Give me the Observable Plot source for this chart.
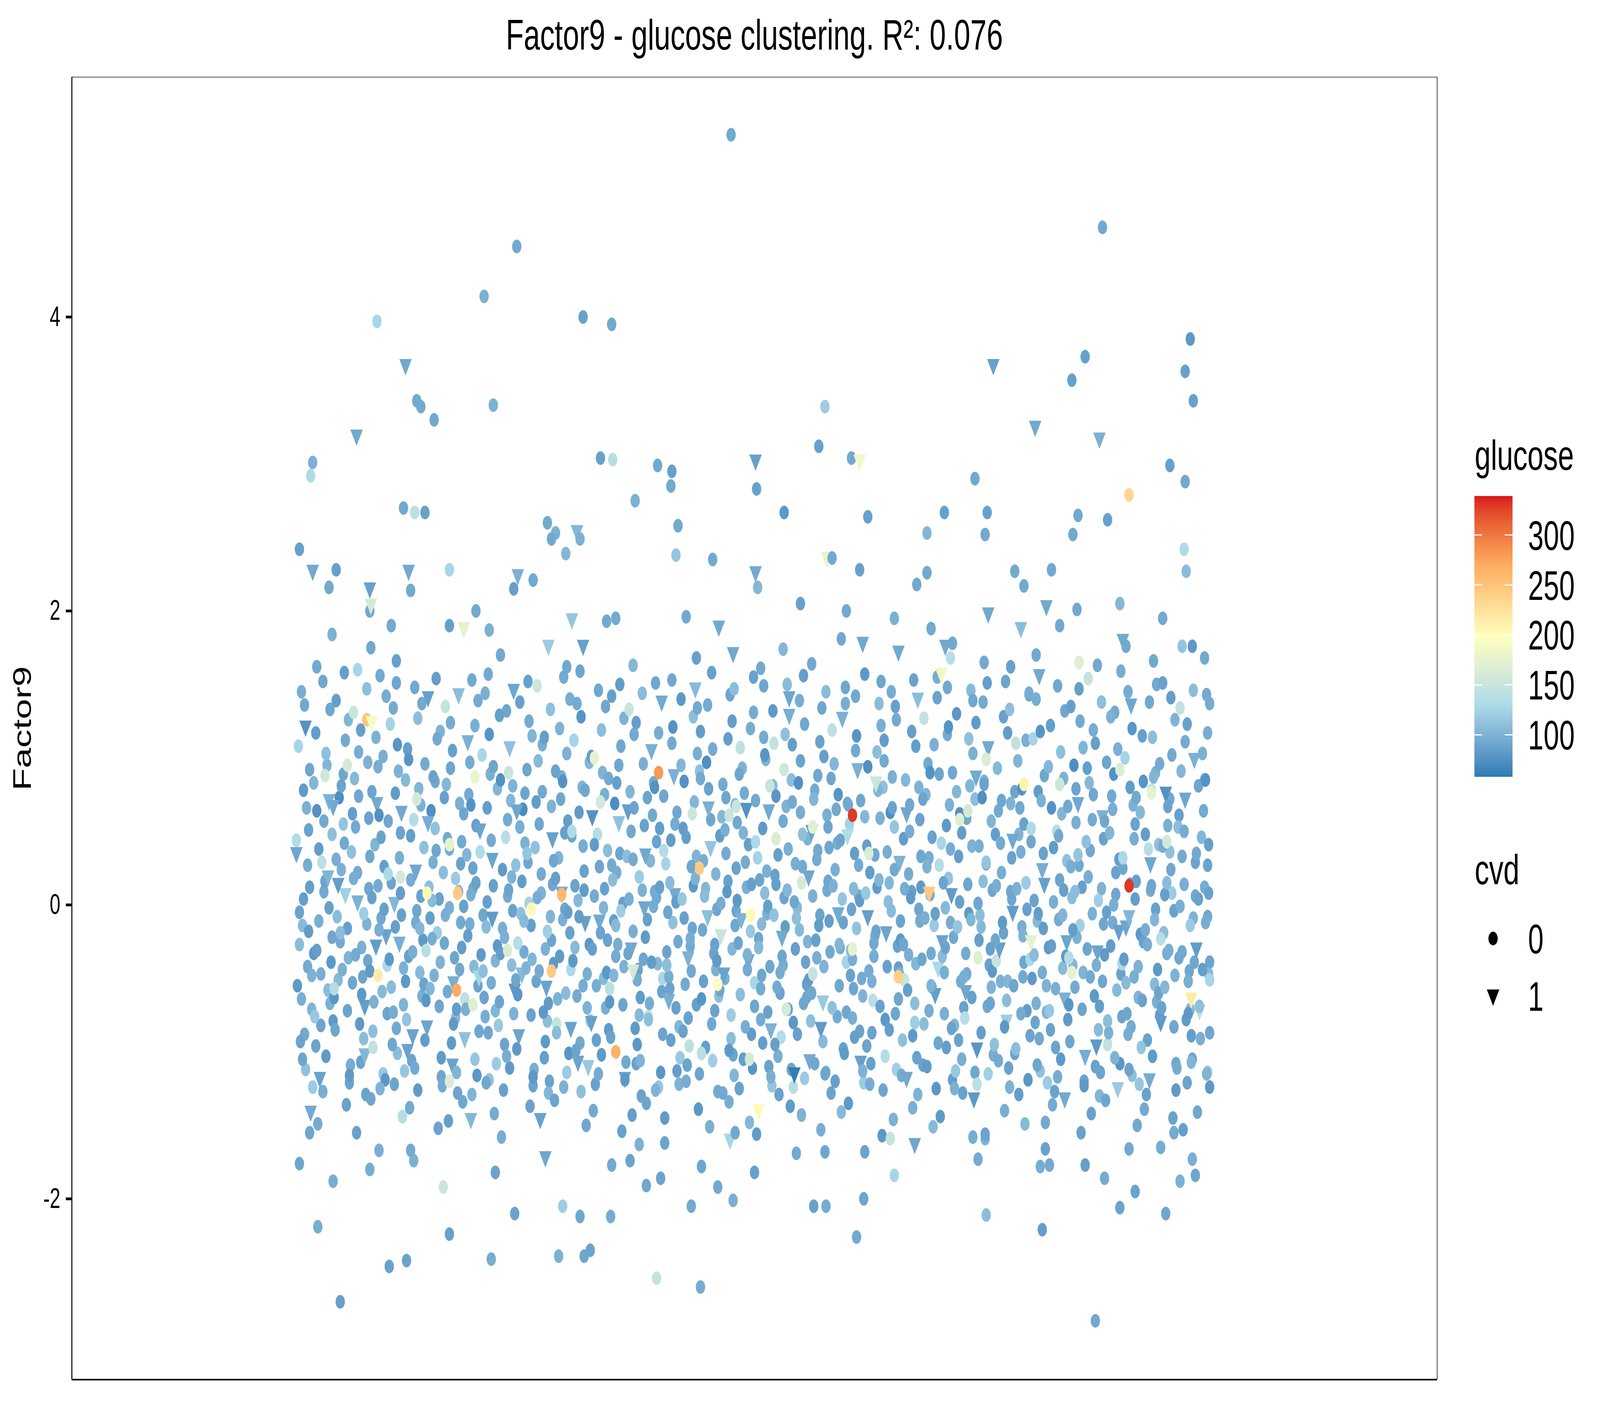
<!DOCTYPE html>
<html><head><meta charset="utf-8">
<script src="https://cdn.jsdelivr.net/npm/d3@7"></script>
<script src="https://cdn.jsdelivr.net/npm/@observablehq/plot@0.6"></script>
<style>
html,body{margin:0;padding:0;background:#fff;overflow:hidden;width:100%;height:100%;}
#wrap{position:absolute;left:0;top:0;width:6000px;height:3600px;transform-origin:0 0;}
#wrap svg.overlay{position:absolute;left:0;top:0;}
</style></head><body><div id="wrap"></div>
<script>
const FONT = '"Liberation Sans", Arial, Helvetica, sans-serif';
const title = "Factor9 - glucose clustering. R²: 0.076";
const yLabel = "Factor9";
const yTicks = [-2, 0, 2, 4];
const legendTicks = [100, 150, 200, 250, 300];
const glucoseExtent = [58, 339];
const cvdLevels = [0, 1];
const paletteColors = ["#2c7bb6", "#abd9e9", "#ffffbf", "#fdae61", "#d7191c"];

// ---- dense cloud of samples (order index, Factor9) ----
const cloudX = [
3,11,7,15,0,9,13,5,17,2,8,12,6,14,1,10,16,4,11,7,3,13,9,15,6,0,12,5,17,8,
27,20,32,24,35,29,22,26,31,19,33,25,28,21,34,30,23,18,27,32,24,20,29,35,26,22,31,19,28,33,
50,41,46,37,44,52,48,39,43,51,36,47,40,49,45,42,53,38,46,41,51,44,48,37,52,39,43,50,36,47,
60,70,55,66,58,63,69,56,65,61,67,54,71,59,64,57,68,62,60,66,55,70,63,58,67,71,56,64,61,69,
83,72,80,89,77,85,74,82,88,78,75,86,81,73,84,79,87,76,83,80,89,74,85,78,82,72,86,75,81,88,
93,101,97,105,90,99,103,95,107,92,98,102,96,104,91,100,106,94,101,97,93,103,99,105,96,90,102,95,107,98,
117,110,122,114,125,119,112,116,121,109,123,115,118,111,124,120,113,108,117,122,114,110,119,125,116,112,121,109,118,123,
140,131,136,127,134,142,138,129,133,141,126,137,130,139,135,132,143,128,136,131,141,134,138,127,142,129,133,140,126,137,
150,160,145,156,148,153,159,146,155,151,157,144,161,149,154,147,158,152,150,156,145,160,153,148,157,161,146,154,151,159,
173,162,170,179,167,175,164,172,178,168,165,176,171,163,174,169,177,166,173,170,179,164,175,168,172,162,176,165,171,178,
183,191,187,195,180,189,193,185,197,182,188,192,186,194,181,190,196,184,191,187,183,193,189,195,186,180,192,185,197,188,
207,200,212,204,215,209,202,206,211,199,213,205,208,201,214,210,203,198,207,212,204,200,209,215,206,202,211,199,208,213,
230,221,226,217,224,232,228,219,223,231,216,227,220,229,225,222,233,218,226,221,231,224,228,217,232,219,223,230,216,227,
240,250,235,246,238,243,249,236,245,241,247,234,251,239,244,237,248,242,240,246,235,250,243,238,247,251,236,244,241,249,
263,252,260,269,257,265,254,262,268,258,255,266,261,253,264,259,267,256,263,260,269,254,265,258,262,252,266,255,261,268,
273,281,277,285,270,279,283,275,287,272,278,282,276,284,271,280,286,274,281,277,273,283,279,285,276,270,282,275,287,278,
297,290,302,294,305,299,292,296,301,289,303,295,298,291,304,300,293,288,297,302,294,290,299,305,296,292,301,289,298,303,
320,311,316,307,314,322,318,309,313,321,306,317,310,319,315,312,323,308,316,311,321,314,318,307,322,309,313,320,306,317,
330,340,325,336,328,333,339,326,335,331,337,324,341,329,334,327,338,332,330,336,325,340,333,328,337,341,326,334,331,339,
353,342,350,359,347,355,344,352,358,348,345,356,351,343,354,349,357,346,353,350,359,344,355,348,352,342,356,345,351,358,
363,371,367,375,360,369,373,365,377,362,368,372,366,374,361,370,376,364,371,367,363,373,369,375,366,360,372,365,377,368,
387,380,392,384,395,389,382,386,391,379,393,385,388,381,394,390,383,378,387,392,384,380,389,395,386,382,391,379,388,393,
410,401,406,397,404,412,408,399,403,411,396,407,400,409,405,402,413,398,406,401,411,404,408,397,412,399,403,410,396,407,
420,430,415,426,418,423,429,416,425,421,427,414,431,419,424,417,428,422,420,426,415,430,423,418,427,431,416,424,421,429,
443,432,440,449,437,445,434,442,448,438,435,446,441,433,444,439,447,436,443,440,449,434,445,438,442,432,446,435,441,448,
453,461,457,465,450,459,463,455,467,452,458,462,456,464,451,460,466,454,461,457,453,463,459,465,456,450,462,455,467,458,
477,470,482,474,485,479,472,476,481,469,483,475,478,471,484,480,473,468,477,482,474,470,479,485,476,472,481,469,478,483,
500,491,496,487,494,502,498,489,493,501,486,497,490,499,495,492,503,488,496,491,501,494,498,487,502,489,493,500,486,497,
510,520,505,516,508,513,519,506,515,511,517,504,521,509,514,507,518,512,510,516,505,520,513,508,517,521,506,514,511,519,
533,522,530,539,527,535,524,532,538,528,525,536,531,523,534,529,537,526,533,530,539,524,535,528,532,522,536,525,531,538,
543,551,547,555,540,549,553,545,557,542,548,552,546,554,541,550,556,544,551,547,543,553,549,555,546,540,552,545,557,548,
567,560,572,564,575,569,562,566,571,559,573,565,568,561,574,570,563,558,567,572,564,560,569,575,566,562,571,559,568,573,
590,581,586,577,584,592,588,579,583,591,576,587,580,589,585,582,593,578,586,581,591,584,588,577,592,579,583,590,576,587,
600,610,595,606,598,603,609,596,605,601,607,594,611,599,604,597,608,602,600,606,595,610,603,598,607,611,596,604,601,609,
623,612,620,629,617,625,614,622,628,618,615,626,621,613,624,619,627,616,623,620,629,614,625,618,622,612,626,615,621,628,
633,641,637,645,630,639,643,635,647,632,638,642,636,644,631,640,646,634,641,637,633,643,639,645,636,630,642,635,647,638,
657,650,662,654,665,659,652,656,661,649,663,655,658,651,664,660,653,648,657,662,654,650,659,665,656,652,661,649,658,663,
680,671,676,667,674,682,678,669,673,681,666,677,670,679,675,672,683,668,676,671,681,674,678,667,682,669,673,680,666,677,
690,700,685,696,688,693,699,686,695,691,697,684,701,689,694,687,698,692,690,696,685,700,693,688,697,701,686,694,691,699,
713,702,710,719,707,715,704,712,718,708,705,716,711,703,714,709,717,706,713,710,719,704,715,708,712,702,716,705,711,718,
723,731,727,735,720,729,733,725,737,722,728,732,726,734,721,730,736,724,731,727,723,733,729,735,726,720,732,725,737,728,
747,740,752,744,755,749,742,746,751,739,753,745,748,741,754,750,743,738,747,752,744,740,749,755,746,742,751,739,748,753,
770,761,766,757,764,772,768,759,763,771,756,767,760,769,765,762,773,758,766,761,771,764,768,757,772,759,763,770,756,767,
780,790,775,786,778,783,789,776,785,781,787,774,791,779,784,777,788,782,780,786,775,790,783,778,787,791,776,784,781,789,
803,792,800,809,797,805,794,802,808,798,795,806,801,793,804,799,807,796,803,800,809,794,805,798,802,792,806,795,801,808,
813,821,817,825,810,819,823,815,827,812,818,822,816,824,811,820,826,814,821,817,813,823,819,825,816,810,822,815,827,818,
837,830,842,834,845,839,832,836,841,829,843,835,838,831,844,840,833,828,837,842,834,830,839,845,836,832,841,829,838,843,
860,851,856,847,854,862,858,849,853,861,846,857,850,859,855,852,863,848,856,851,861,854,858,847,862,849,853,860,846,857,
870,880,865,876,868,873,879,866,875,871,877,864,881,869,874,867,878,872,870,876,865,880,873,868,877,881,866,874,871,879,
893,882,890,895,887,893,884,892,895,888,885,894,891,883,894,889,895,886,893,890,895,884,893,888,892,882,894,885,891,895
];
const cloudY = [
-0.05,-0.42,0.78,-0.71,0.35,-1.12,0.12,1.45,-0.33,1.08,-0.88,0.51,-0.14,-1.41,-0.55,0.66,-1.24,-0.93,0.27,0.04,-0.27,0.92,1.21,-0.48,-1.05,0.44,-0.18,-0.64,0.83,1.36,
0.09,-0.31,0.71,-0.82,0.48,-1.03,-0.11,1.52,-0.58,1.17,-0.67,0.29,0.16,-1.49,-0.39,0.95,-1.18,-0.76,0.57,-0.02,-0.47,0.64,1.03,-0.22,-1.27,0.38,0.19,-0.96,0.88,1.33,
-0.16,-0.51,0.89,-0.63,0.24,-1.21,0.07,1.39,-0.25,1.26,-0.79,0.42,-0.08,-1.36,-0.44,0.73,-1.09,-0.85,0.55,0.14,-0.36,0.81,1.12,-0.57,-1.16,0.31,-0.19,-0.72,0.67,1.58,
0.02,-0.38,0.62,-0.91,0.53,-1.07,-0.13,1.31,-0.49,1.04,-0.69,0.36,0.11,-1.55,-0.29,0.86,-1.29,-0.81,0.22,-0.06,-0.53,0.97,1.19,-0.34,-1.02,0.59,0.18,-0.61,0.74,1.47,
-0.09,-0.45,0.94,-0.74,0.41,-1.15,0.05,1.56,-0.21,1.14,-0.97,0.26,-0.17,-1.32,-0.59,0.69,-1.19,-0.66,0.46,0.13,-0.41,0.77,1.01,-0.28,-1.25,0.33,-0.03,-0.86,0.61,1.42,
0.15,-0.26,0.76,-0.68,0.57,-1.01,-0.07,1.34,-0.52,1.23,-0.84,0.49,0.01,-1.44,-0.37,0.91,-1.13,-0.95,0.32,-0.15,-0.56,0.63,1.09,-0.43,-1.22,0.21,0.08,-0.73,0.85,1.51,
-0.12,-0.35,0.68,-0.89,0.39,-1.26,0.17,1.48,-0.46,1.06,-0.62,0.58,-0.04,-1.38,-0.24,0.79,-1.06,-0.78,0.23,0.06,-0.32,0.99,1.27,-0.54,-1.11,0.47,-0.16,-0.99,0.72,1.37,
0.04,-0.57,0.84,-0.65,0.29,-1.17,-0.19,1.41,-0.23,1.18,-0.92,0.37,0.12,-1.52,-0.48,0.64,-1.23,-0.83,0.52,-0.09,-0.39,0.87,1.13,-0.31,-1.04,0.56,0.03,-0.69,0.96,1.54,
-0.02,-0.44,0.73,-0.77,0.45,-1.09,0.09,1.35,-0.36,1.24,-0.71,0.22,-0.12,-1.47,-0.53,0.82,-1.28,-0.94,0.38,0.18,-0.26,0.69,1.05,-0.59,-1.14,0.28,-0.07,-0.81,0.93,1.43,
0.11,-0.29,0.97,-0.86,0.34,-1.05,-0.01,1.53,-0.55,1.11,-0.64,0.54,0.07,-1.34,-0.42,0.75,-1.16,-0.71,0.25,-0.13,-0.49,0.62,1.22,-0.21,-1.29,0.43,0.15,-0.91,0.68,1.39,
-0.07,-0.53,0.66,-0.72,0.51,-1.19,0.13,1.44,-0.28,1.02,-0.87,0.31,-0.15,-1.42,-0.34,0.89,-1.08,-0.63,0.44,0.02,-0.45,0.94,1.16,-0.38,-1.21,0.36,-0.09,-0.76,0.79,1.57,
0.06,-0.33,0.81,-0.95,0.27,-1.11,-0.16,1.32,-0.41,1.29,-0.74,0.46,0.1,-1.58,-0.58,0.71,-1.26,-0.82,0.58,-0.04,-0.22,0.85,1.07,-0.51,-1.03,0.24,0.19,-0.66,0.9,1.46,
-0.14,-0.47,0.92,-0.61,0.42,-1.23,0.01,1.38,-0.32,1.15,-0.98,0.29,-0.06,-1.37,-0.43,0.65,-1.12,-0.89,0.35,0.16,-0.37,0.76,1.25,-0.26,-1.17,0.53,-0.11,-0.75,0.64,1.52,
0.08,-0.24,0.7,-0.79,0.55,-1.04,-0.08,1.49,-0.56,1.09,-0.67,0.39,0.14,-1.46,-0.3,0.98,-1.2,-0.73,0.21,-0.18,-0.52,0.67,1.14,-0.45,-1.28,0.45,0.05,-0.93,0.77,1.33,
-0.03,-0.4,0.87,-0.84,0.32,-1.14,0.18,1.55,-0.19,1.2,-0.81,0.57,-0.1,-1.33,-0.6,0.72,-1.01,-0.64,0.49,0.08,-0.44,0.91,1.03,-0.35,-1.24,0.3,-0.05,-0.87,0.84,1.4,
0.13,-0.55,0.63,-0.7,0.47,-1.27,-0.12,1.37,-0.27,1.12,-0.94,0.23,0.03,-1.5,-0.38,0.8,-1.1,-0.99,0.4,-0.08,-0.29,0.78,1.28,-0.47,-1.07,0.5,0.1,-0.62,0.97,1.59,
-0.11,-0.3,0.75,-0.92,0.37,-1.02,0.06,1.46,-0.5,1.01,-0.7,0.48,-0.19,-1.4,-0.46,0.9,-1.22,-0.79,0.26,0.11,-0.55,0.6,1.19,-0.24,-1.15,0.41,-0.02,-0.8,0.7,1.35,
0.01,-0.48,0.95,-0.66,0.22,-1.18,-0.04,1.42,-0.35,1.27,-0.85,0.35,0.17,-1.54,-0.27,0.69,-1.07,-0.9,0.56,-0.11,-0.42,0.83,1.08,-0.57,-1.19,0.27,-0.14,-0.68,0.86,1.5,
-0.18,-0.37,0.64,-0.75,0.5,-1.08,0.1,1.33,-0.44,1.16,-0.63,0.33,-0.02,-1.43,-0.51,0.77,-1.3,-0.84,0.31,0.19,-0.33,0.96,1.24,-0.3,-1.06,0.54,0.04,-0.95,0.66,1.44,
0.05,-0.22,0.83,-0.88,0.3,-1.24,-0.1,1.51,-0.59,1.05,-0.76,0.52,0.09,-1.35,-0.4,0.61,-1.14,-0.67,0.43,-0.01,-0.5,0.73,1.17,-0.39,-1.26,0.34,0.12,-0.78,0.8,1.38,
-0.32,0.07,0.44,-0.83,0.74,-0.12,-1.13,-0.49,1.4,0.28,1.1,-0.7,0.15,-0.25,-1.45,0.88,-1.04,-0.05,0.55,-0.92,-0.41,0.63,1.21,-1.22,-0.57,0.37,0.02,-0.65,0.95,1.53,
-0.45,-0.09,0.33,-0.77,0.91,0.13,-1.2,-0.28,1.47,0.52,1.03,-0.96,-0.16,-0.54,-1.39,0.7,-1.09,0.04,0.26,-0.68,-0.36,0.84,1.28,-1.15,-0.23,0.46,0.18,-0.86,0.62,1.34,
-0.27,0.11,0.58,-0.64,0.66,-0.03,-1.06,-0.52,1.36,0.21,1.18,-0.81,0.06,-0.33,-1.51,0.97,-1.27,-0.17,0.39,-0.97,-0.44,0.79,1.06,-1.01,-0.38,0.3,-0.08,-0.72,0.86,1.58,
-0.5,-0.14,0.47,-0.91,0.82,0.16,-1.16,-0.21,1.43,0.35,1.25,-0.62,-0.04,-0.47,-1.34,0.6,-1.02,0.09,0.51,-0.75,-0.58,0.68,1.13,-1.28,-0.3,0.25,0.01,-0.99,0.73,1.47,
-0.38,0.03,0.29,-0.69,0.93,-0.18,-1.25,-0.44,1.55,0.49,1.07,-0.88,0.12,-0.26,-1.48,0.76,-1.11,-0.1,0.41,-0.83,-0.53,0.89,1.2,-1.05,-0.34,0.56,0.14,-0.61,0.65,1.31,
-0.23,-0.06,0.52,-0.85,0.71,0.08,-1.1,-0.57,1.32,0.32,1.14,-0.73,-0.13,-0.42,-1.56,0.99,-1.23,0.17,0.23,-0.94,-0.29,0.64,1.02,-1.17,-0.48,0.43,-0.01,-0.78,0.81,1.49,
-0.41,0.14,0.38,-0.6,0.85,-0.15,-1.03,-0.35,1.5,0.2,1.29,-0.9,0.05,-0.56,-1.37,0.67,-1.29,-0.07,0.57,-0.71,-0.46,0.74,1.16,-1.12,-0.22,0.34,0.1,-0.95,0.92,1.41,
-0.54,-0.02,0.26,-0.8,0.63,0.19,-1.18,-0.3,1.39,0.45,1.09,-0.67,-0.09,-0.39,-1.43,0.83,-1.06,0.02,0.48,-0.88,-0.25,0.98,1.23,-1.24,-0.51,0.28,-0.17,-0.63,0.7,1.56,
-0.36,0.1,0.5,-0.93,0.78,-0.07,-1.14,-0.47,1.34,0.37,1.01,-0.79,0.16,-0.24,-1.53,0.72,-1.15,-0.14,0.31,-0.66,-0.6,0.61,1.11,-1.08,-0.42,0.53,0.06,-0.84,0.88,1.45,
-0.29,-0.11,0.42,-0.73,0.96,0.04,-1.28,-0.55,1.48,0.24,1.19,-0.98,-0.06,-0.32,-1.41,0.65,-1.01,0.13,0.44,-0.76,-0.39,0.86,1.27,-1.2,-0.27,0.39,-0.12,-0.7,0.75,1.37,
-0.48,0.06,0.35,-0.62,0.69,-0.16,-1.07,-0.37,1.57,0.55,1.05,-0.86,0.11,-0.5,-1.35,0.92,-1.21,-0.03,0.27,-0.9,-0.31,0.71,1.15,-1.13,-0.57,0.47,0.03,-0.77,0.6,1.42,
-0.21,-0.08,0.59,-0.87,0.8,0.12,-1.22,-0.26,1.37,0.4,1.22,-0.65,-0.18,-0.45,-1.57,0.78,-1.08,0.08,0.34,-0.69,-0.52,0.94,1.04,-1.26,-0.35,0.22,0.17,-0.96,0.83,1.52,
-0.43,0.15,0.24,-0.78,0.87,-0.11,-1.12,-0.42,1.45,0.29,1.12,-0.74,0.02,-0.28,-1.46,0.63,-1.16,-0.19,0.53,-0.85,-0.47,0.66,1.26,-1.03,-0.24,0.36,-0.04,-0.64,0.98,1.35,
-0.34,-0.03,0.45,-0.67,0.62,0.09,-1.29,-0.51,1.53,0.5,1.08,-0.92,-0.11,-0.58,-1.38,0.85,-1.04,0.05,0.21,-0.8,-0.27,0.8,1.18,-1.18,-0.4,0.58,0.11,-0.89,0.68,1.4,
-0.56,0.12,0.32,-0.94,0.75,-0.14,-1.09,-0.33,1.41,0.26,1.27,-0.61,0.07,-0.37,-1.51,0.96,-1.25,-0.09,0.46,-0.72,-0.43,0.72,1.09,-1.1,-0.55,0.33,-0.06,-0.81,0.9,1.55,
-0.25,-0.12,0.54,-0.82,0.89,0.18,-1.19,-0.46,1.3,0.42,1.16,-0.84,-0.02,-0.22,-1.44,0.68,-1.13,0.15,0.38,-0.97,-0.35,0.9,1.21,-1.25,-0.29,0.27,0.07,-0.74,0.77,1.48,
-0.47,0.02,0.4,-0.7,0.72,-0.06,-1.05,-0.59,1.46,0.33,1.03,-0.77,0.14,-0.52,-1.32,0.81,-1.28,-0.15,0.59,-0.63,-0.49,0.62,1.13,-1.14,-0.33,0.49,-0.1,-0.92,0.64,1.39,
-0.3,-0.15,0.28,-0.98,0.84,0.1,-1.15,-0.24,1.38,0.57,1.24,-0.69,-0.07,-0.41,-1.59,0.73,-1.02,0.01,0.29,-0.87,-0.56,0.82,1.07,-1.22,-0.45,0.4,0.16,-0.67,0.87,1.51,
-0.52,0.09,0.48,-0.65,0.64,-0.19,-1.24,-0.38,1.52,0.22,1.17,-0.95,0.04,-0.3,-1.4,0.93,-1.11,-0.12,0.42,-0.79,-0.24,0.69,1.28,-1.06,-0.52,0.32,0.13,-0.83,0.71,1.33,
-0.39,-0.05,0.36,-0.89,0.98,0.15,-1.01,-0.49,1.43,0.48,1.1,-0.72,-0.15,-0.55,-1.49,0.66,-1.19,0.11,0.55,-0.74,-0.37,0.77,1.12,-1.29,-0.21,0.44,-0.03,-0.98,0.79,1.44,
0.03,-0.46,0.77,-0.73,0.43,-1.13,0.14,1.4,-0.29,1.13,-0.91,0.35,-0.11,-1.48,-0.5,0.71,-1.21,-0.8,0.24,-0.06,-0.34,0.88,1.18,-0.55,-1.09,0.52,-0.16,-0.67,0.94,1.56,
-0.1,-0.28,0.86,-0.97,0.3,-1.05,0.02,1.49,-0.43,1.22,-0.64,0.5,0.17,-1.36,-0.35,0.62,-1.27,-0.72,0.47,0.1,-0.57,0.66,1.04,-0.25,-1.17,0.39,-0.07,-0.85,0.82,1.32,
0.12,-0.41,0.69,-0.68,0.56,-1.2,-0.14,1.35,-0.56,1.07,-0.78,0.27,0.05,-1.55,-0.22,0.95,-1.03,-0.93,0.34,-0.17,-0.46,0.79,1.25,-0.36,-1.23,0.26,0.09,-0.71,0.67,1.47,
-0.06,-0.52,0.93,-0.85,0.37,-1.1,0.11,1.54,-0.32,1.19,-0.69,0.43,-0.13,-1.42,-0.41,0.83,-1.14,-0.62,0.58,0.03,-0.3,0.6,1.1,-0.49,-1.3,0.45,0.19,-0.96,0.75,1.38,
0.07,-0.34,0.65,-0.76,0.49,-1.25,-0.05,1.31,-0.47,1.28,-0.95,0.31,0.0,-1.33,-0.58,0.74,-1.08,-0.87,0.22,-0.12,-0.4,0.97,1.06,-0.28,-1.04,0.57,-0.18,-0.79,0.89,1.59,
-0.15,-0.49,0.8,-0.63,0.25,-1.16,0.16,1.45,-0.2,1.0,-0.83,0.55,-0.08,-1.5,-0.37,0.68,-1.22,-0.74,0.45,0.14,-0.53,0.73,1.2,-0.42,-1.12,0.32,0.04,-0.88,0.63,1.36,
0.1,-0.25,0.9,-0.92,0.41,-1.03,-0.17,1.38,-0.54,1.15,-0.66,0.38,0.13,-1.39,-0.44,0.87,-1.29,-0.97,0.28,-0.03,-0.27,0.84,1.14,-0.6,-1.19,0.48,-0.1,-0.65,0.78,1.5,
-0.04,-0.56,0.72,-0.8,0.54,-1.08,0.08,1.51,-0.33,1.26,-0.75,0.24,-0.19,-1.45,-0.31,0.76,-1.11,-0.7,0.36,0.07,-0.48,0.67,1.02,-0.23,-1.26,0.4,0.15,-0.83,0.96,1.41,
0.14,-0.39,0.61,-0.71,0.33,-1.21,-0.09,1.34,-0.45,1.11,-0.89,0.53,0.06,-1.53,-0.52,0.91,-1.05,-0.78,0.5,-0.14,-0.36,0.99,1.23,-0.32,-1.07,0.29,-0.01,-0.74,0.72,1.46,
-0.08,-0.3,0.85,-0.87,0.46,-1.14,0.04,1.43,-0.39,1.03,-0.72,0.41,-0.12,-1.41,-0.47,0.64,-1.24,-0.91,0.27,0.12,-0.51,0.81,1.17,-0.44,-1.15,0.35,0.08,-0.69,0.85,1.37
];
const cloudGlucose = [
89,95,83,102,91,112,86,97,80,126,93,88,106,94,82,99,118,90,96,85,108,92,77,100,91,133,84,98,104,93,
94,86,100,89,110,82,97,92,107,85,99,140,90,95,81,103,88,116,93,87,98,76,110,91,96,84,102,89,155,92,
87,105,92,79,98,90,122,86,95,102,83,93,108,88,99,73,96,91,114,85,101,89,94,136,82,97,108,90,93,86,
99,91,85,108,93,88,101,150,90,96,84,110,92,87,98,105,89,82,95,120,91,100,86,94,103,88,97,81,92,110,
92,83,96,90,102,117,87,94,89,100,145,85,97,91,106,93,80,99,88,95,128,90,98,84,101,92,87,109,75,96,
90,97,84,101,92,109,87,95,81,124,94,89,104,93,83,100,115,91,97,86,107,93,79,99,90,130,85,96,105,92,
95,87,99,88,110,83,96,93,106,86,98,134,91,94,82,102,89,113,92,88,97,78,109,90,95,85,103,88,160,93,
88,104,93,80,97,91,119,87,96,101,84,92,109,89,98,74,95,90,111,86,100,88,93,138,83,96,107,91,94,85,
98,92,86,107,94,89,100,148,91,95,85,109,93,86,97,104,90,83,96,118,92,99,87,93,102,89,98,82,91,108,
93,84,95,91,103,114,88,93,90,99,142,86,96,92,105,94,81,98,89,96,126,91,97,85,102,93,88,110,77,95,
91,96,85,103,90,113,87,98,81,127,92,89,107,95,83,98,119,89,95,86,109,91,78,101,92,132,83,97,103,94,
95,85,101,90,111,83,98,91,108,86,100,138,89,96,82,104,87,117,94,88,99,75,111,92,97,83,101,90,150,91,
86,106,91,80,99,89,123,87,94,103,82,92,110,89,100,72,97,90,115,84,102,90,95,134,81,98,106,89,92,87,
100,90,84,109,92,87,102,152,89,97,83,111,91,88,99,106,88,81,94,121,90,101,85,95,104,87,96,82,93,111,
91,82,97,89,101,118,86,95,88,101,147,84,98,90,107,92,79,100,87,94,129,89,99,83,100,91,86,108,76,97,
89,96,83,100,91,110,86,94,80,125,93,88,105,92,82,101,116,90,96,85,106,92,78,98,89,131,84,95,104,91,
94,86,98,87,109,82,95,92,105,85,97,135,90,93,81,101,88,114,91,87,96,77,108,89,94,84,102,87,158,92,
87,103,92,79,96,90,120,86,95,100,83,91,108,88,97,73,94,89,112,85,99,87,92,139,82,95,106,90,93,84,
97,91,85,106,93,88,99,149,90,94,84,108,92,85,96,103,89,82,95,119,91,98,86,92,101,88,97,81,90,107,
92,83,94,90,102,115,87,92,89,98,143,85,95,91,104,93,80,97,88,95,127,90,96,84,101,92,87,109,76,94,
90,94,84,103,92,111,85,97,81,125,94,87,107,93,83,98,117,91,95,86,109,92,76,101,90,134,85,97,103,92,
93,87,101,88,111,81,96,93,106,84,98,141,91,94,80,104,89,115,92,86,99,77,109,90,97,85,101,88,152,93,
88,104,91,78,99,91,121,87,94,101,84,92,107,89,98,74,95,92,113,86,100,88,95,137,83,96,109,89,94,87,
98,92,84,107,94,87,102,151,91,95,85,109,91,88,97,104,90,81,96,119,92,99,85,93,104,89,96,82,91,109,
93,82,95,91,101,116,88,95,88,101,144,84,98,90,105,94,79,100,87,96,127,91,97,85,100,93,86,108,76,95,
91,98,83,100,93,108,88,94,82,123,95,88,105,92,84,101,114,90,98,85,106,94,78,98,91,129,86,95,106,91,
96,86,98,89,109,84,97,92,107,87,97,133,90,95,83,101,88,112,93,89,96,79,110,91,94,86,104,87,157,92,
87,105,94,81,96,92,118,86,97,100,85,91,110,88,99,75,94,91,110,87,101,89,92,137,84,97,106,92,93,86,
97,93,87,106,95,90,99,147,92,94,86,110,92,87,98,103,91,84,95,117,93,98,88,92,101,90,99,83,92,107,
94,85,96,92,104,113,89,92,91,98,141,87,95,93,106,93,82,99,90,95,125,92,98,86,103,92,89,111,78,96,
89,95,85,101,91,112,87,96,81,124,93,89,106,94,82,99,118,90,95,86,108,92,78,100,91,132,84,97,104,93,
95,86,99,89,110,83,96,93,108,85,98,139,90,95,81,102,87,116,93,88,97,75,109,91,96,84,103,90,151,91,
86,104,93,80,99,89,121,87,96,101,84,91,108,88,99,72,96,90,114,85,100,89,94,135,82,97,107,91,93,87,
98,91,84,109,92,87,101,150,89,96,85,110,93,86,98,104,88,83,95,120,91,100,86,93,103,89,96,82,92,108,
91,83,96,91,103,117,88,94,89,100,146,85,97,91,106,93,80,98,88,96,129,90,98,84,101,92,87,108,77,96,
90,97,83,102,91,113,86,97,80,126,94,88,105,93,83,99,116,90,96,85,107,92,77,99,90,133,84,98,103,93,
94,87,100,88,109,82,97,92,106,85,99,136,91,95,81,103,88,114,93,87,98,76,110,91,95,84,102,89,159,92,
87,105,92,79,98,91,122,86,95,102,83,93,109,88,99,74,96,91,115,85,101,88,94,140,82,97,108,90,93,86,
99,92,85,108,93,88,100,149,90,96,84,111,92,87,97,105,89,82,95,120,91,100,87,94,103,88,97,81,92,110,
92,84,96,90,102,118,87,94,89,101,144,85,97,91,106,93,80,99,88,95,127,90,98,84,101,92,87,109,75,96,
89,96,84,102,91,111,86,97,81,125,93,88,106,94,82,99,119,90,96,85,108,92,78,100,91,130,84,98,104,93,
94,86,100,89,111,83,97,92,107,85,99,138,90,95,81,103,88,116,93,87,98,77,110,91,96,84,102,89,154,92,
87,104,92,80,98,90,122,86,95,102,83,93,108,88,99,73,96,91,113,85,101,89,94,136,82,97,108,90,93,86,
99,91,85,107,93,88,101,147,90,96,84,110,92,87,98,105,89,82,95,121,91,100,86,94,103,88,97,81,92,110,
92,83,96,90,102,118,87,94,89,100,145,85,97,91,106,93,80,99,88,95,128,90,98,84,101,92,87,109,76,96,
91,97,84,101,92,111,87,95,81,124,94,89,104,93,83,100,115,91,97,86,107,93,79,99,90,129,85,96,105,92,
95,87,99,88,110,83,96,93,106,86,98,137,91,94,82,102,89,114,92,88,97,78,109,90,95,85,103,88,148,93,
88,104,93,80,97,91,119,87,96,101,84,92,109,89,98,75,95,90,111,86,100,88,93,137,83,96,107,91,94,85,
98,92,86,107,94,89,100,146,91,95,85,109,93,86,97,104,90,83,96,118,92,99,87,93,102,89,98,82,91,108,
93,84,95,91,103,114,88,93,90,99,142,86,96,92,105,94,81,98,89,96,126,91,97,85,102,93,88,110,77,95
];
const cloudCvd = [
0,0,0,0,1,0,0,0,0,0,0,0,0,1,0,0,0,0,0,0,0,0,1,0,0,0,0,0,0,0,
0,0,1,0,0,0,0,0,0,0,0,0,0,0,0,0,1,0,0,0,0,0,0,0,0,0,1,0,0,0,
0,0,0,0,0,0,1,0,0,0,0,0,0,0,0,0,0,0,0,1,0,0,0,0,0,0,0,0,1,0,
1,0,0,0,0,0,0,0,0,0,1,0,0,0,0,0,0,0,0,0,0,0,0,0,1,0,0,0,0,0,
0,0,0,0,0,0,0,0,1,0,0,0,0,0,0,1,0,0,0,0,0,0,0,1,0,0,0,0,0,0,
0,1,0,0,0,0,0,0,0,0,0,0,1,0,0,0,0,0,0,0,0,1,0,0,0,0,0,0,0,0,
0,0,0,1,0,0,0,0,0,0,0,0,0,0,0,0,0,0,1,0,0,0,0,0,0,0,0,1,0,0,
0,0,0,0,0,0,0,1,0,0,0,0,0,0,0,0,0,1,0,0,0,0,0,0,0,1,0,0,0,0,
0,0,0,0,0,1,0,0,0,0,0,0,0,0,1,0,0,0,0,0,0,0,0,0,0,0,0,0,0,1,
0,0,0,0,0,0,0,0,0,1,0,0,0,0,0,0,0,0,0,0,1,0,0,0,0,0,0,1,0,0,
0,0,0,0,1,0,0,0,0,0,0,1,0,0,0,0,0,0,0,0,0,0,0,0,0,0,1,0,0,0,
0,0,0,0,0,0,0,0,0,0,0,0,0,0,1,0,0,0,0,0,0,0,1,0,0,0,0,0,0,1,
0,1,0,0,0,0,0,0,0,0,0,0,0,0,0,0,0,1,0,0,0,0,0,0,0,0,0,0,1,0,
0,0,0,0,0,0,0,0,1,0,0,0,0,1,0,0,0,0,0,0,0,0,0,0,0,1,0,0,0,0,
0,0,0,1,0,0,0,0,0,0,0,0,0,0,0,0,0,0,0,1,0,0,0,0,0,0,0,0,0,0,
0,0,0,0,0,0,1,0,0,0,0,0,0,0,0,0,1,0,0,0,0,0,0,0,1,0,0,0,0,0,
1,0,0,0,0,0,0,0,0,0,0,0,0,0,0,0,0,0,0,0,0,1,0,0,0,0,0,1,0,0,
0,0,0,0,0,1,0,0,0,0,0,0,0,0,0,0,0,0,1,0,0,0,0,0,0,0,0,0,0,0,
0,0,1,0,0,0,0,0,0,0,0,0,1,0,0,0,0,0,0,0,0,0,0,1,0,0,0,0,0,0,
0,0,0,0,0,0,0,0,0,1,0,0,0,0,0,0,0,0,0,0,0,0,0,0,0,1,0,0,0,1,
0,1,0,0,0,0,0,0,0,0,0,0,0,0,0,1,0,0,0,0,0,0,0,0,0,0,0,1,0,0,
0,0,0,0,0,0,0,0,1,0,0,0,0,0,0,0,0,0,0,0,1,0,0,0,0,0,0,0,0,0,
0,0,0,0,1,0,0,0,0,0,0,0,0,0,0,0,0,0,1,0,0,0,0,0,0,0,1,0,0,0,
0,0,0,0,0,0,0,1,0,0,0,0,0,1,0,0,0,0,0,0,0,0,0,0,0,0,0,0,0,0,
1,0,0,0,0,0,0,0,0,0,0,0,0,0,0,0,0,1,0,0,0,0,0,0,0,0,0,0,1,0,
0,0,0,1,0,0,0,0,0,0,0,0,0,0,0,0,0,0,0,0,0,1,0,0,0,0,0,0,0,0,
0,0,0,0,0,0,0,0,0,0,1,0,0,0,0,0,0,0,0,0,0,0,0,0,1,0,0,0,0,1,
0,0,0,0,0,1,0,0,0,0,0,0,0,0,0,0,1,0,0,0,0,0,0,0,0,0,0,0,0,0,
0,0,1,0,0,0,0,0,0,0,0,0,0,0,0,0,0,0,0,1,0,0,0,0,0,0,0,1,0,0,
0,0,0,0,0,0,0,0,0,0,0,0,1,0,0,0,0,0,0,0,0,0,1,0,0,0,0,0,0,0,
0,0,0,0,0,0,1,0,0,0,0,0,0,0,0,1,0,0,0,0,0,0,0,0,0,1,0,0,0,0,
0,1,0,0,0,0,0,0,0,0,0,0,0,0,0,0,0,0,0,0,0,0,0,0,0,0,0,0,1,0,
0,0,0,0,0,0,0,0,0,1,0,0,0,0,0,0,0,1,0,0,0,0,0,0,0,0,0,0,0,0,
0,0,0,0,1,0,0,0,0,0,0,0,0,0,0,0,0,0,0,0,0,0,0,1,0,0,0,0,0,1,
0,0,0,0,0,0,0,0,0,0,0,1,0,0,0,0,0,0,0,0,1,0,0,0,0,0,0,0,0,0,
1,0,0,0,0,0,0,0,0,0,0,0,0,0,0,0,0,0,0,0,0,0,0,0,0,0,1,0,0,0,
0,0,0,0,0,0,0,1,0,0,0,0,0,0,1,0,0,0,0,0,0,0,0,0,0,0,0,0,0,0,
0,0,0,1,0,0,0,0,0,0,0,0,0,0,0,0,0,0,0,0,0,0,1,0,0,0,0,0,1,0,
0,0,0,0,0,0,0,0,0,0,0,0,0,1,0,0,0,0,0,1,0,0,0,0,0,0,0,0,0,0,
0,1,0,0,0,0,0,0,0,0,0,0,0,0,0,0,0,0,0,0,0,0,0,0,0,1,0,0,0,0,
0,0,0,0,0,0,1,0,0,0,0,0,0,0,0,0,0,0,1,0,0,0,0,0,0,0,0,0,0,1,
0,0,0,0,0,0,0,0,0,0,1,0,0,0,0,0,0,0,0,0,0,0,0,1,0,0,0,0,0,0,
0,0,1,0,0,0,0,0,0,0,0,0,0,0,0,0,1,0,0,0,0,0,0,0,0,0,0,0,0,0,
0,0,0,0,0,0,0,0,1,0,0,0,0,0,0,0,0,0,0,0,0,1,0,0,0,0,0,1,0,0,
0,0,0,0,0,1,0,0,0,0,0,0,0,0,0,0,0,0,0,0,0,0,0,0,0,0,1,0,0,0,
1,0,0,0,0,0,0,0,0,0,0,0,1,0,0,0,0,0,0,0,0,0,0,0,0,0,0,0,0,1,
0,0,0,0,0,0,0,0,0,0,0,0,0,0,0,0,0,0,1,0,0,0,0,0,1,0,0,0,0,0,
0,0,0,1,0,0,0,0,0,0,0,0,0,0,0,1,0,0,0,0,0,0,0,0,0,0,0,0,0,0,
0,0,0,0,0,0,0,0,0,0,0,0,0,0,0,0,0,0,0,0,0,1,0,0,0,0,0,0,1,0,
0,1,0,0,0,0,0,0,0,0,1,0,0,0,0,0,0,0,0,0,0,0,0,0,0,0,0,0,0,0
];

// ---- tails (sparse points above ~1.6 and below ~-1.6) ----
const tailX = [
426,790,216,184,281,79,309,876,773,107,
683,871,760,879,118,122,193,135,518,724,
59,787,512,16,14,298,310,354,368,450,
544,552,856,816,367,451,871,665,332,105,
116,126,478,635,677,560,766,246,795,254,
250,275,278,618,675,761,374,3,264,372,
870,520,525,552,16,39,150,110,217,450,
618,704,740,408,872,32,72,112,213,232,
452,608,713,807,494,735,765,539,678,72,
73,176,313,270,304,164,150,93,189,414,
748,710,622,382,586,849,35,534,810,813,
878,868,281,247,555,643,477,428,73,641,
674,636,20,98,200,330,392,505,590,700,
840,60,265,455,725,785,890,
783,43,396,353,91,108,191,282,257,288,
549,150,21,731,676,214,852,308,278,507,
519,807,387,428,261,556,144,413,822,36,
343,586,792,449,881,866,357,738,773,729,
397,72,195,309,115,244,327,668,878,518,
490,557,81,3,112,336,734,816,847,361,
582,425,430,453,606,663,13,860,675,171,
753,104
];
const tailY = [
5.24,4.61,4.48,4.14,4.00,3.97,3.95,3.85,3.73,3.67,
3.67,3.63,3.57,3.43,3.43,3.39,3.40,3.30,3.39,3.25,
3.19,3.17,3.12,3.01,2.92,3.04,3.03,2.99,2.95,3.02,
3.04,3.02,2.99,2.79,2.85,2.83,2.88,2.90,2.75,2.70,
2.67,2.67,2.67,2.67,2.67,2.64,2.65,2.60,2.62,2.53,
2.49,2.54,2.49,2.53,2.52,2.52,2.58,2.42,2.39,2.38,
2.42,2.36,2.36,2.28,2.27,2.28,2.28,2.27,2.24,2.26,
2.26,2.27,2.28,2.35,2.27,2.16,2.15,2.14,2.15,2.21,
2.16,2.18,2.17,2.05,2.05,2.03,2.01,2.00,1.98,2.00,
2.04,2.00,1.95,1.94,1.93,1.88,1.90,1.90,1.87,1.89,
1.90,1.88,1.88,1.96,1.95,1.95,1.84,1.81,1.80,1.76,
1.76,1.76,1.76,1.76,1.78,1.78,1.74,1.71,1.75,1.68,
1.65,1.76,1.62,1.66,1.70,1.63,1.68,1.64,1.72,1.62,
1.66,1.60,1.62,1.61,1.70,1.63,1.68,
-2.83,-2.70,-2.60,-2.54,-2.46,-2.42,-2.41,-2.39,-2.39,-2.35,
-2.26,-2.24,-2.19,-2.21,-2.11,-2.10,-2.10,-2.12,-2.12,-2.05,
-2.05,-2.06,-2.05,-2.01,-2.05,-2.00,-1.92,-1.92,-1.95,-1.88,
-1.91,-1.84,-1.86,-1.82,-1.84,-1.88,-1.86,-1.77,-1.77,-1.78,
-1.78,-1.80,-1.82,-1.77,-1.74,-1.72,-1.74,-1.73,-1.73,-1.68,
-1.69,-1.68,-1.67,-1.76,-1.67,-1.63,-1.66,-1.66,-1.65,-1.62,
-1.59,-1.60,-1.55,-1.40,-1.63,-1.58,-1.55,-1.55,-1.56,-1.46,
-1.32,-1.44
];
const tailGlucose = [
93,93,93,99,87,126,93,81,87,93,
87,87,87,87,93,93,99,93,120,93,
93,99,87,99,131,87,137,93,87,87,
93,185,87,235,93,87,93,93,99,93,
142,87,81,87,87,87,93,93,87,99,
93,104,99,104,93,93,93,87,104,114,
131,180,93,87,93,87,126,93,99,93,
93,93,93,93,108,93,87,93,87,93,
104,93,93,104,87,93,93,93,93,93,
160,93,93,114,93,175,87,93,99,93,
93,108,93,93,99,93,99,93,93,93,
81,114,87,120,93,93,104,93,93,137,
93,93,93,87,93,104,87,93,93,87,
93,126,93,93,93,93,93,
93,87,95,147,87,89,96,91,99,90,
94,87,97,85,108,89,92,95,91,87,
96,90,94,98,120,91,152,93,89,97,
92,126,95,87,91,99,90,94,86,97,
91,96,89,94,99,92,90,95,98,91,
94,89,97,91,95,99,88,93,96,90,
147,126,93,205,92,97,91,95,89,104,
93,137
];
const tailCvd = [
0,0,0,0,0,0,0,0,0,1,
1,0,0,0,0,0,0,0,0,1,
1,1,0,0,0,0,0,0,0,1,
0,1,0,0,0,0,0,0,0,0,
0,0,0,0,0,0,0,0,0,0,
0,1,0,0,0,0,0,0,0,0,
0,1,0,0,1,0,0,1,1,1,
0,0,0,0,0,0,1,0,0,0,
0,0,0,0,0,1,0,0,1,0,
1,0,0,1,0,1,0,0,0,1,
0,1,0,0,0,0,0,0,1,0,
0,0,1,1,1,0,0,1,0,0,
0,1,0,0,0,0,0,0,1,0,
0,0,0,0,0,0,0,
0,0,0,0,0,0,0,0,0,0,
0,0,0,0,0,0,0,0,0,0,
0,0,0,0,0,0,0,0,0,0,
0,0,0,0,0,0,0,0,0,0,
0,0,0,0,0,1,0,0,0,0,
0,0,0,0,0,0,0,0,0,0,
0,1,0,1,1,0,0,0,0,1,
1,0
];

// ---- highlighted (non-blue) samples, drawn last ----
const accentX = [
69,74,355,395,541,545,816,157,313,80,
250,590,260,158,620,713,877,128,230,150,
175,292,445,632,767,545,561,650,676,807,
838,853,760,668,207,173,102,50,150,330,
470,720,413,488,506,495,480,444,424,431,
468,464
];
const accentY = [
1.26,1.24,0.90,0.25,0.68,0.61,0.13,-0.58,-1.00,-0.48,
-0.45,-0.49,0.07,0.08,0.08,0.82,-0.64,0.08,-0.03,0.41,
0.87,1.00,-0.07,1.57,1.65,-0.30,0.35,0.58,0.99,0.92,
0.76,0.43,-0.46,-0.36,-0.31,-0.68,0.19,0.95,-1.20,-0.45,
0.45,-0.25,-0.54,-1.15,0.53,0.15,-0.71,-1.05,0.61,0.67,
1.10,0.81
];
const accentGlucose = [
250,190,280,245,93,330,330,270,265,215,
245,240,260,245,245,210,215,205,205,175,
180,175,205,185,170,175,165,170,165,165,
175,160,175,170,165,170,160,160,165,160,
165,175,195,60,170,160,160,160,150,150,
145,150
];
const accentCvd = [
0,1,0,0,0,0,0,0,0,0,
0,0,0,0,1,0,1,0,0,0,
0,0,0,1,0,0,0,0,0,0,
0,0,0,0,0,0,0,0,0,1,
0,1,0,1,0,0,0,0,0,0,
0,0
];

// ---- assemble table ----
function rows(xs, ys, gs, cs) {
  const n = Math.min(xs.length, ys.length, gs.length, cs.length);
  return d3.range(n).map(i => ({order: xs[i], factor9: ys[i], glucose: gs[i], cvd: cs[i]}));
}
const data = [
  ...rows(cloudX, cloudY, cloudGlucose, cloudCvd),
  ...rows(tailX, tailY, tailGlucose, tailCvd),
  ...rows(accentX, accentY, accentGlucose, accentCvd)
];

const xDomain = [-220, 1118];
const yDomain = [-3.23, 5.632];
const gMid = (glucoseExtent[0] + glucoseExtent[1]) / 2;
const colorDomain = [glucoseExtent[0], (glucoseExtent[0] + gMid) / 2, gMid, (gMid + glucoseExtent[1]) / 2, glucoseExtent[1]];
const colorOptions = {type: "linear", domain: colorDomain, range: paletteColors, interpolate: "lab"};

// downward-pointing filled triangle (about 47 px wide, 42 px tall at r = 17.5)
const triDown = {
  draw(context, size) {
    const r = Math.sqrt(size / Math.PI);
    const w = 1.34 * r;
    context.moveTo(-w, -0.95 * r);
    context.lineTo(w, -0.95 * r);
    context.lineTo(0, 1.45 * r);
    context.closePath();
  }
};

const R = 17.5;
const plot = Plot.plot({
  width: 6000,
  height: 3600,
  marginLeft: 269,
  marginRight: 611,
  marginTop: 197,
  marginBottom: 68,
  style: {fontFamily: FONT, fontSize: "72px", color: "#000", background: "#fff"},
  x: {domain: xDomain, axis: null},
  y: {domain: yDomain, axis: null},
  color: colorOptions,
  symbol: {domain: cvdLevels, range: [d3.symbolCircle, triDown]},
  marks: [
    Plot.dot(data, {x: "order", y: "factor9", fill: "glucose", symbol: "cvd", r: R, fillOpacity: 1, stroke: "none"}),
    Plot.ruleY([yDomain[1]], {stroke: "#6e6e6e", strokeWidth: 2.5}),
    Plot.ruleX([xDomain[1]], {stroke: "#222", strokeWidth: 2.5}),
    Plot.ruleX([xDomain[0]], {stroke: "#000", strokeWidth: 3.8}),
    Plot.ruleY([yDomain[0]], {stroke: "#000", strokeWidth: 3.8}),
    Plot.axisY({ticks: yTicks, tickSize: 22, tickPadding: 21, tickFormat: d => String(d), strokeWidth: 7, fontSize: 72, label: null})
  ]
});
const wrap = document.getElementById("wrap");
wrap.appendChild(plot);

// ---- overlay: title, y label, legends ----
const colorScale = Plot.scale({color: colorOptions});
const ov = d3.select(wrap).append("svg")
  .attr("class", "overlay")
  .attr("width", 6000).attr("height", 3600)
  .style("font-family", FONT);

ov.append("text").attr("x", 2829).attr("y", 127).attr("text-anchor", "middle")
  .attr("font-size", 110).attr("fill", "#000").text(title);

ov.append("text").attr("transform", "translate(116,1865) rotate(-90)").attr("text-anchor", "middle")
  .attr("font-size", 94).attr("fill", "#000").text(yLabel);

// colour bar
const barX = 5529, barW = 143, barTop = 1270, barH = 719;
const gy = v => barTop + barH - (v - glucoseExtent[0]) / (glucoseExtent[1] - glucoseExtent[0]) * barH;
const defs = ov.append("defs");
const grad = defs.append("linearGradient").attr("id", "gl").attr("x1", 0).attr("y1", 1).attr("x2", 0).attr("y2", 0);
d3.range(0, 41).forEach(i => {
  const t = i / 40;
  const v = glucoseExtent[0] + t * (glucoseExtent[1] - glucoseExtent[0]);
  grad.append("stop").attr("offset", t).attr("stop-color", colorScale.apply(v));
});
ov.append("text").attr("x", 5530).attr("y", 1203).attr("font-size", 108).attr("fill", "#000").text("glucose");
ov.append("rect").attr("x", barX).attr("y", barTop).attr("width", barW).attr("height", barH).attr("fill", "url(#gl)");
legendTicks.forEach(v => {
  const y = gy(v);
  ov.append("line").attr("x1", barX).attr("x2", barX + 29).attr("y1", y).attr("y2", y).attr("stroke", "#fff").attr("stroke-width", 3);
  ov.append("line").attr("x1", barX + barW - 29).attr("x2", barX + barW).attr("y1", y).attr("y2", y).attr("stroke", "#fff").attr("stroke-width", 3);
  ov.append("text").attr("x", 5730).attr("y", y).attr("dy", "0.36em").attr("font-size", 105).attr("fill", "#000").text(String(v));
});

// shape legend
ov.append("text").attr("x", 5530).attr("y", 2264).attr("font-size", 108).attr("fill", "#000").text("cvd");
const keyY = [2403, 2550];
cvdLevels.forEach((c, i) => {
  const sym = c === 0 ? d3.symbolCircle : triDown;
  ov.append("path").attr("transform", `translate(5599,${keyY[i]})`)
    .attr("d", d3.symbol(sym, Math.PI * R * R)()).attr("fill", "#000");
  ov.append("text").attr("x", 5730).attr("y", keyY[i]).attr("dy", "0.36em").attr("font-size", 105).attr("fill", "#000").text(String(c));
});

// map the 6000x3600 drawing onto the whole viewport the page is given
function fit() {
  const sx = window.innerWidth / 6000;
  const sy = window.innerHeight / 3600;
  wrap.style.transform = `scale(${sx}, ${sy})`;
}
fit();
window.addEventListener("resize", fit);
</script>
</body></html>
